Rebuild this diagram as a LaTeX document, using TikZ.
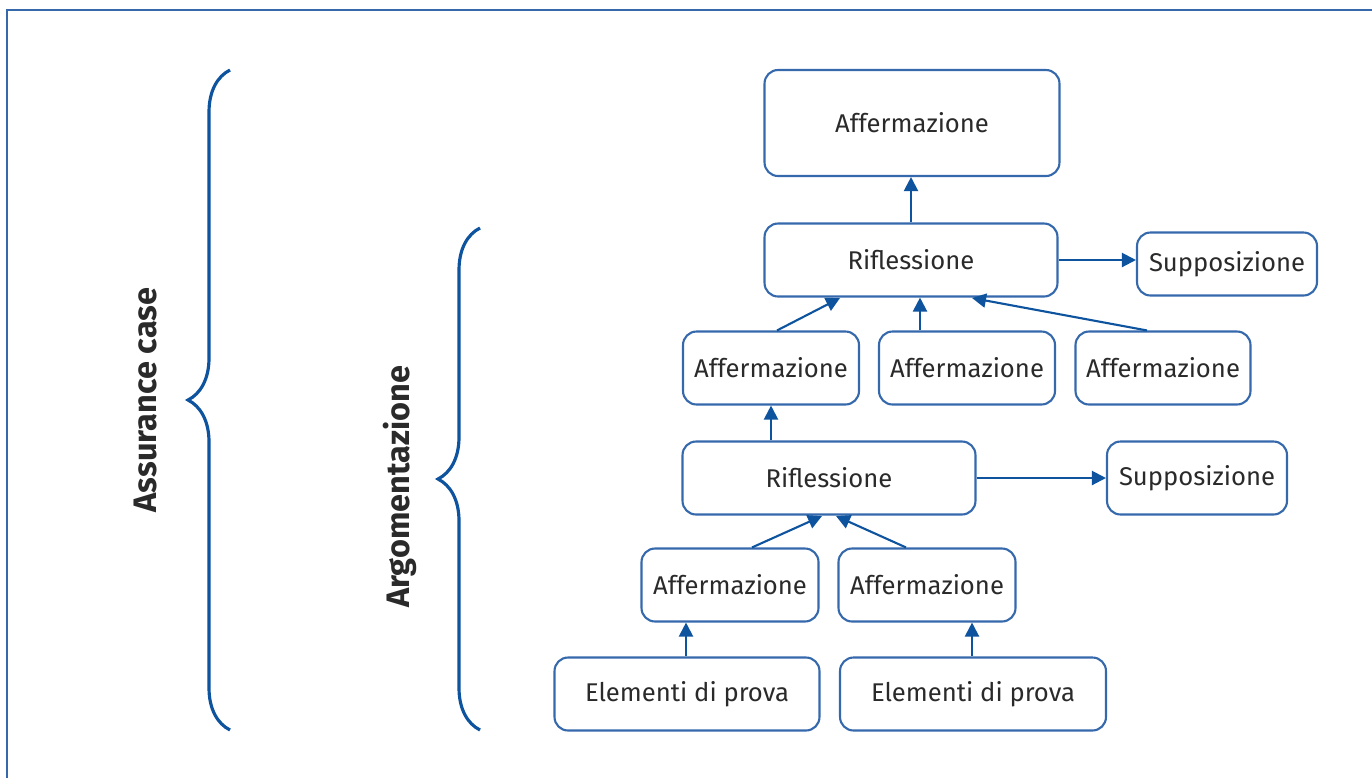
\documentclass[tikz,border=0pt]{standalone}
\usepackage{fontspec}
\setmainfont{Fira Sans}
\usetikzlibrary{arrows.meta,decorations.pathreplacing}

\definecolor{boxblue}{HTML}{3569AC}
\definecolor{darkblue}{HTML}{0D539E}
\definecolor{textgrey}{HTML}{2A2A2A}

\tikzset{
    item/.style={draw=boxblue, line width=1.2pt, rounded corners=0.27cm,
        text=textgrey, font=\fontsize{14.6}{16}\selectfont, align=center,
        minimum height=1.46cm, inner sep=0pt},
    link/.style={draw=darkblue, line width=1.2pt,
        -{Triangle[length=2.8mm, width=2.8mm]}},
    bracket/.style={draw=darkblue, line width=1.8pt, decorate,
        decoration={brace, amplitude=0.84cm}},
    side/.style={text=textgrey, font=\fontsize{18.5}{20}\selectfont\bfseries, rotate=90}
}

\begin{document}
\begin{tikzpicture}[x=0.02cm, y=-0.02cm]
    \useasboundingbox (0,0) rectangle (1372,778);

    % frame
    \draw [boxblue, line width=1pt] (7,778) -- (7,10) -- (1372,10);

    % top part
    \node[item, minimum width=5.9cm, minimum height=2.12cm] (top) at (912,123) {Affermazione};
    \node[item, minimum width=5.86cm] (rif1) at (911,260) {Riflessione};
    \node[item, minimum width=3.6cm, minimum height=1.26cm] (sup1) at (1227,264) {Supposizione};

    \node[item, minimum width=3.52cm] (aff1) at (771,368) {Affermazione};
    \node[item, minimum width=3.52cm] (aff2) at (967,368) {Affermazione};
    \node[item, minimum width=3.5cm] (aff3) at (1163,368) {Affermazione};

    % bottom part
    \node[item, minimum width=5.86cm] (rif2) at (829,478) {Riflessione};
    \node[item, minimum width=3.6cm] (sup2) at (1197,478) {Supposizione};

    \node[item, minimum width=3.54cm] (aff4) at (730,585) {Affermazione};
    \node[item, minimum width=3.54cm] (aff5) at (927,585) {Affermazione};

    \node[item, minimum width=5.3cm] (ev1) at (687,694) {Elementi di prova};
    \node[item, minimum width=5.32cm] (ev2) at (973,694) {Elementi di prova};

    \draw [link] (rif1.north) -- (top.south -| rif1.north);
    \draw [link] (rif1) -- (sup1.west |- rif1);
    \draw [link] (aff1.north -| 777,0) -- (840,298);
    \draw [link] (aff2.north -| 920,0) -- (rif1.south -| 920,0);
    \draw [link] (aff3.north -| 1147,0) -- (972,298);

    \draw [link] (rif2.north -| aff1) -- (aff1);
    \draw [link] (rif2) -- (sup2);
    \draw [link] (aff4.north -| 752,0) -- (822,516);
    \draw [link] (aff5.north -| 906,0) -- (836,516);

    \draw [link] (ev1.north -| 686,0) -- (aff4.south -| 686,0);
    \draw [link] (ev2.north -| 972,0) -- (aff5.south -| 972,0);

    % braces
    \coordinate (bigbot) at (230,730);
    \coordinate (bigtop) at (230,70);
    \coordinate (smallbot) at (480,730);
    \coordinate (smalltop) at (480,228);
    \draw [bracket] (bigbot) -- (bigtop);
    \draw [bracket] (smallbot) -- (smalltop);

    \node[side] (case) at (146,400) {Assurance case};
    \node[side] (arg) at (400,487) {Argomentazione};
\end{tikzpicture}
\end{document}
